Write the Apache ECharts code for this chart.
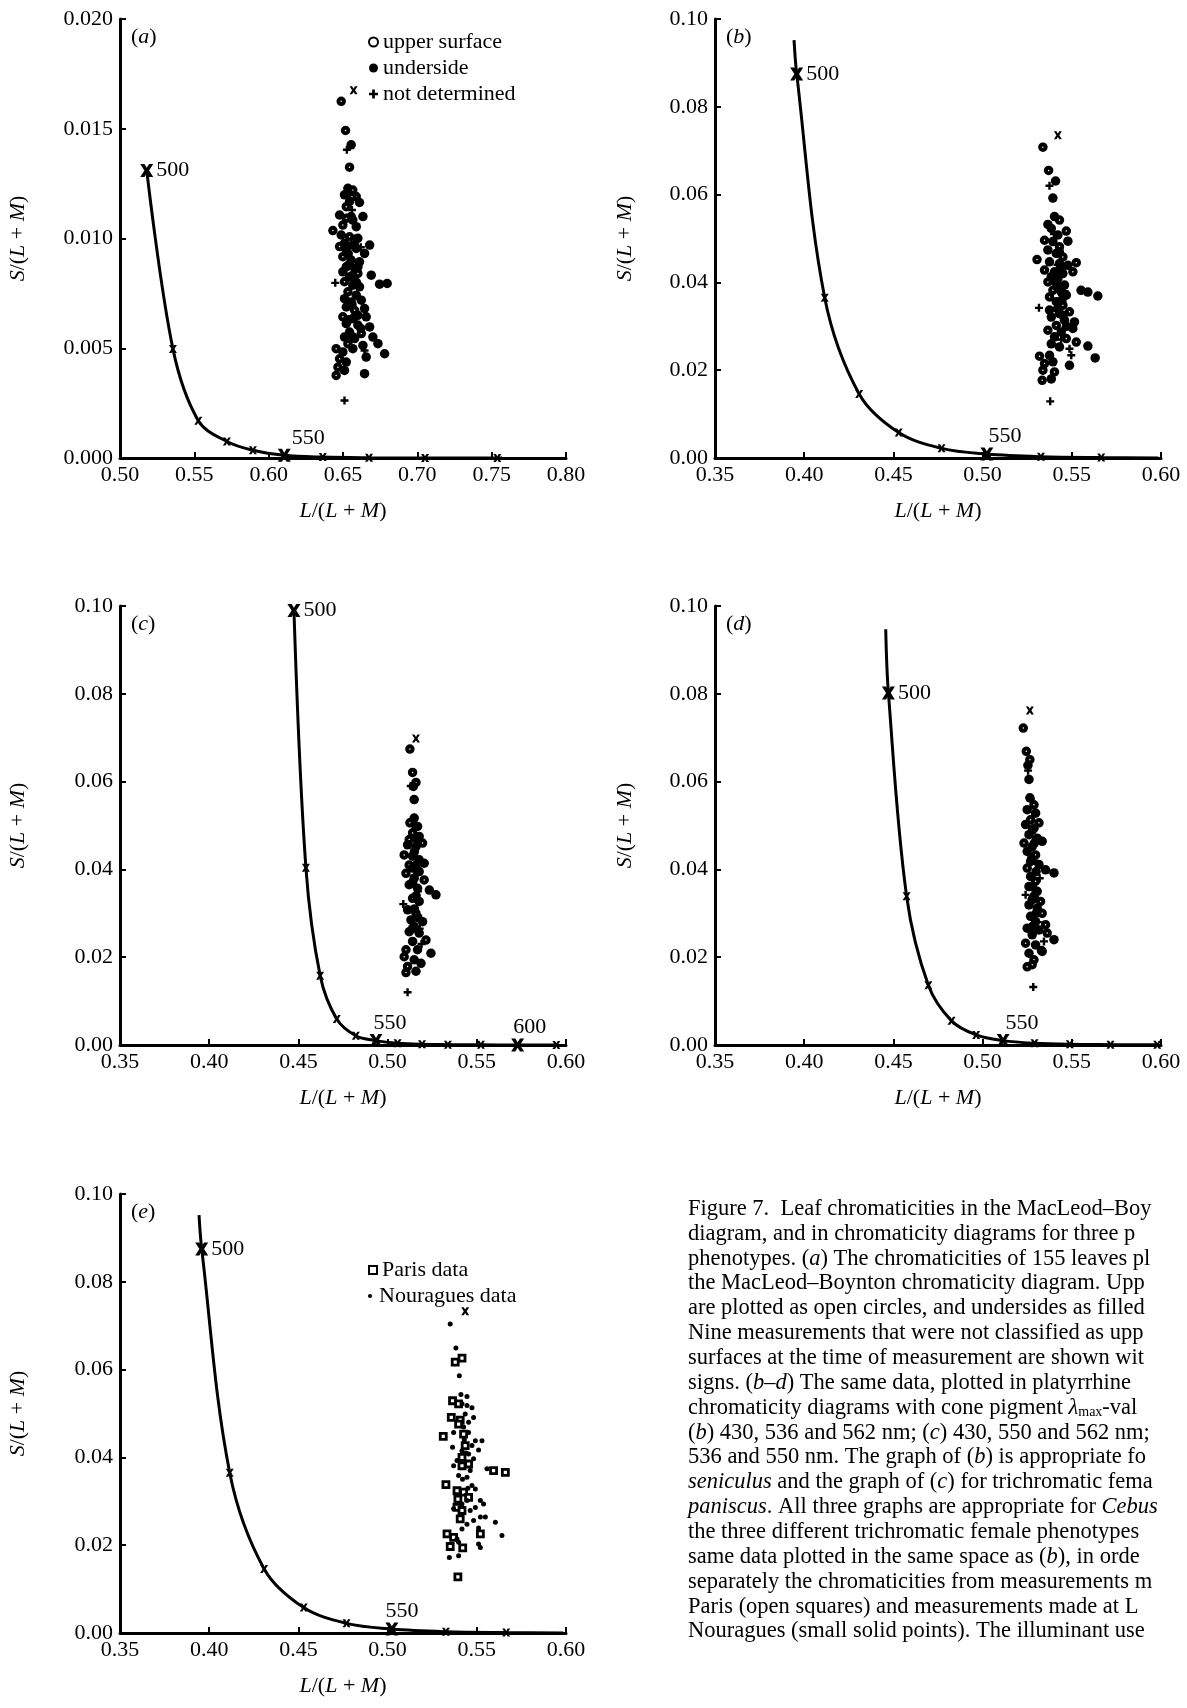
<!DOCTYPE html>
<html><head><meta charset="utf-8">
<script src="https://cdn.jsdelivr.net/npm/echarts@6/dist/echarts.min.js"></script>
<style>html,body{margin:0;padding:0;background:#fff}#c{width:1187px;height:1708px}</style>
</head><body><div id="c"></div>
<script>
// ---------- DATA ----------
// spectrum locus points: [L/(L+M), S/(L+M), wavelength nm (null = curve end only)]
const locusA = [[0.518,0.0131,500],[0.5356,0.00497,510],[0.5527,0.0017,520],[0.5719,0.00075,530],[0.5894,0.00035,540],[0.6105,0.00012,550],[0.6364,0.00004,560],[0.6675,0.00001,570],[0.7052,0,580],[0.7538,0,590],[0.757,0,null]];
const locusB = [[0.3943,0.0952,null],[0.3958,0.0875,500],[0.4115,0.0365,510],[0.4308,0.0146,520],[0.4530,0.0058,530],[0.4770,0.0022,540],[0.5024,0.0009,550],[0.5327,0.0003,560],[0.5665,0.0001,570],[0.5985,0.00002,null]];
const locusC = [[0.4475,0.0990,500],[0.4542,0.0404,510],[0.4622,0.0158,520],[0.4715,0.0059,530],[0.4822,0.0021,540],[0.4935,0.0010,550],[0.5056,0.0004,560],[0.5193,0.00015,570],[0.5338,0.00008,580],[0.5523,0.00004,590],[0.5729,0.00002,600],[0.5946,0.00001,610]];
const locusD = [[0.4457,0.0947,null],[0.4472,0.0802,500],[0.4574,0.0339,510],[0.4696,0.0136,520],[0.4826,0.0055,530],[0.4964,0.0023,540],[0.5115,0.0010,550],[0.5291,0.0004,560],[0.5489,0.00015,570],[0.5717,0.00008,580],[0.5979,0.00004,590]];
const bigWavelengths = [500, 550, 600];

// (a) MacLeod–Boynton
const upperA = [[0.6488,0.01625],[0.6517,0.01492],[0.6544,0.01325],[0.6566,0.01221],[0.6589,0.01191],[0.6522,0.01145],[0.6522,0.01092],[0.6499,0.01061],[0.6432,0.01036],[0.6544,0.01008],[0.6566,0.00970],[0.6477,0.00963],[0.6499,0.00917],[0.6522,0.00871],[0.6600,0.00841],[0.6510,0.00803],[0.6533,0.00757],[0.6555,0.00711],[0.6578,0.00673],[0.6499,0.00643],[0.6600,0.00605],[0.6623,0.00567],[0.6533,0.00521],[0.6454,0.00498],[0.6477,0.00452],[0.6466,0.00414],[0.6454,0.00376],[0.6560,0.0119]];
const underA = [[0.6555,0.01427],[0.6533,0.01229],[0.6510,0.01199],[0.6544,0.01168],[0.6611,0.01164],[0.6477,0.01107],[0.6566,0.01084],[0.6634,0.01100],[0.6589,0.01054],[0.6488,0.01016],[0.6600,0.01001],[0.6510,0.00978],[0.6679,0.00970],[0.6645,0.00932],[0.6522,0.00947],[0.6589,0.00955],[0.6555,0.00902],[0.6611,0.00894],[0.6578,0.00864],[0.6499,0.00848],[0.6544,0.00825],[0.6690,0.00833],[0.6746,0.00792],[0.6797,0.00795],[0.6566,0.00787],[0.6611,0.00780],[0.6589,0.00742],[0.6510,0.00726],[0.6623,0.00719],[0.6522,0.00688],[0.6645,0.00681],[0.6566,0.00635],[0.6656,0.00643],[0.6522,0.00612],[0.6679,0.00597],[0.6544,0.00574],[0.6510,0.00551],[0.6578,0.00544],[0.6701,0.00551],[0.6634,0.00513],[0.6499,0.00483],[0.6566,0.00498],[0.6735,0.00521],[0.6780,0.00475],[0.6522,0.00437],[0.6656,0.00460],[0.6510,0.00399],[0.6645,0.00384],[0.6555,0.0110],[0.6577,0.0097],[0.6540,0.0088],[0.6590,0.0080],[0.6560,0.0070],[0.6600,0.0065],[0.6540,0.0063],[0.6620,0.0059],[0.6535,0.0093],[0.6600,0.0087],[0.6560,0.0083],[0.6570,0.0055]];
const notDetA = [[0.6526,0.01404],[0.6448,0.00798],[0.6510,0.00262],[0.6645,0.00490],[0.6560,0.0113],[0.6620,0.0096],[0.6590,0.0062],[0.6580,0.0100],[0.6540,0.0071]];
const illumA = [[0.6571,0.01675]];

// (b) 430, 536, 562 nm  (also the space of (e))
const upperB = [[0.5338,0.0708],[0.5370,0.0655],[0.5431,0.0542],[0.5469,0.0517],[0.5347,0.0496],[0.5431,0.0481],[0.5450,0.0458],[0.5305,0.0452],[0.5525,0.0445],[0.5347,0.0428],[0.5506,0.0424],[0.5366,0.0401],[0.5394,0.0382],[0.5375,0.0367],[0.5450,0.0348],[0.5487,0.0333],[0.5413,0.0302],[0.5366,0.0291],[0.5469,0.0272],[0.5525,0.0264],[0.5319,0.0232],[0.5347,0.0215],[0.5338,0.0200],[0.5403,0.0196],[0.5334,0.0177]];
const underB = [[0.5409,0.0631],[0.5394,0.0592],[0.5403,0.0550],[0.5366,0.0532],[0.5385,0.0523],[0.5422,0.0508],[0.5394,0.0493],[0.5478,0.0494],[0.5366,0.0474],[0.5413,0.0466],[0.5375,0.0447],[0.5431,0.0443],[0.5478,0.0439],[0.5403,0.0424],[0.5450,0.0420],[0.5385,0.0413],[0.5422,0.0409],[0.5413,0.0398],[0.5459,0.0394],[0.5441,0.0378],[0.5552,0.0382],[0.5590,0.0378],[0.5646,0.0369],[0.5469,0.0371],[0.5413,0.0356],[0.5375,0.0337],[0.5431,0.0329],[0.5385,0.0321],[0.5459,0.0314],[0.5515,0.0310],[0.5441,0.0287],[0.5506,0.0295],[0.5403,0.0276],[0.5385,0.0260],[0.5431,0.0253],[0.5590,0.0255],[0.5375,0.0234],[0.5631,0.0228],[0.5394,0.0219],[0.5487,0.0211],[0.5385,0.0180],[0.5430,0.0470],[0.5440,0.0430],[0.5420,0.0390],[0.5445,0.0360],[0.5420,0.0340],[0.5450,0.0325],[0.5470,0.0300]];
const notDetB = [[0.5375,0.0620],[0.5316,0.0342],[0.5487,0.0249],[0.5497,0.0234],[0.5379,0.0129],[0.5420,0.0440],[0.5440,0.0270],[0.5400,0.0510],[0.5460,0.0380]];
const illumB = [[0.5422,0.0735]];

// (c) 430, 550, 562 nm
const upperC = [[0.5125,0.0674],[0.5140,0.0621],[0.5159,0.0598],[0.5125,0.0506],[0.5140,0.0483],[0.5121,0.0468],[0.5196,0.0460],[0.5093,0.0433],[0.5121,0.0410],[0.5103,0.0391],[0.5205,0.0376],[0.5140,0.0334],[0.5159,0.0300],[0.5149,0.0270],[0.5215,0.0239],[0.5103,0.0217],[0.5093,0.0201],[0.5112,0.0179],[0.5103,0.0165]];
const underC = [[0.5144,0.0589],[0.5149,0.0559],[0.5149,0.0517],[0.5168,0.0498],[0.5177,0.0475],[0.5112,0.0456],[0.5159,0.0452],[0.5140,0.0430],[0.5177,0.0422],[0.5205,0.0414],[0.5140,0.0403],[0.5177,0.0395],[0.5149,0.0380],[0.5121,0.0365],[0.5168,0.0357],[0.5234,0.0353],[0.5271,0.0342],[0.5177,0.0327],[0.5112,0.0308],[0.5131,0.0285],[0.5196,0.0281],[0.5121,0.0258],[0.5177,0.0255],[0.5140,0.0236],[0.5168,0.0217],[0.5243,0.0209],[0.5149,0.0194],[0.5187,0.0186],[0.5159,0.0168],[0.5150,0.0440],[0.5160,0.0410],[0.5140,0.0370],[0.5160,0.0340],[0.5150,0.0310],[0.5170,0.0290],[0.5140,0.0265],[0.5160,0.0470]];
const notDetC = [[0.5088,0.0321],[0.5112,0.0120],[0.5160,0.0425],[0.5140,0.0500],[0.5180,0.0265],[0.5190,0.0230],[0.5150,0.0385],[0.5130,0.0590],[0.5170,0.0350]];
const illumC = [[0.5159,0.0698]];

// (d) 430, 536, 550 nm
const upperD = [[0.5228,0.0722],[0.5245,0.0669],[0.5265,0.0650],[0.5288,0.0547],[0.5269,0.0513],[0.5316,0.0506],[0.5306,0.0471],[0.5232,0.0460],[0.5297,0.0433],[0.5250,0.0403],[0.5297,0.0373],[0.5325,0.0327],[0.5334,0.0300],[0.5353,0.0274],[0.5362,0.0255],[0.5241,0.0232],[0.5334,0.0213],[0.5288,0.0194],[0.5278,0.0183],[0.5250,0.0178]];
const underD = [[0.5254,0.0637],[0.5260,0.0605],[0.5265,0.0563],[0.5250,0.0536],[0.5297,0.0528],[0.5241,0.0502],[0.5288,0.0494],[0.5260,0.0479],[0.5278,0.0452],[0.5334,0.0464],[0.5250,0.0441],[0.5269,0.0418],[0.5316,0.0411],[0.5353,0.0399],[0.5400,0.0392],[0.5269,0.0384],[0.5260,0.0361],[0.5306,0.0350],[0.5278,0.0331],[0.5260,0.0319],[0.5306,0.0312],[0.5269,0.0293],[0.5297,0.0281],[0.5250,0.0266],[0.5316,0.0262],[0.5278,0.0251],[0.5400,0.0240],[0.5297,0.0228],[0.5260,0.0209],[0.5280,0.0490],[0.5290,0.0460],[0.5275,0.0425],[0.5300,0.0395],[0.5280,0.0360],[0.5290,0.0340],[0.5300,0.0300],[0.5280,0.0270],[0.5330,0.0215]];
const notDetD = [[0.5241,0.0342],[0.5344,0.0236],[0.5284,0.0132],[0.5290,0.0420],[0.5300,0.0470],[0.5270,0.0560],[0.5310,0.0280],[0.5255,0.0625],[0.5320,0.0380]];
const illumD = [[0.5265,0.0762]];

// (e) same space as (b): Paris vs Nouragues
const parisE = [[0.5417,0.0626],[0.5379,0.0617],[0.5364,0.0529],[0.5398,0.0522],[0.5357,0.0491],[0.5407,0.0485],[0.5398,0.0476],[0.5312,0.0448],[0.5426,0.0453],[0.5435,0.0427],[0.5417,0.0400],[0.5417,0.0381],[0.5454,0.0385],[0.5594,0.0370],[0.5660,0.0366],[0.5327,0.0338],[0.5389,0.0324],[0.5426,0.0321],[0.5394,0.0305],[0.5454,0.0309],[0.5389,0.0286],[0.5417,0.0279],[0.5407,0.0260],[0.5520,0.0226],[0.5333,0.0226],[0.5370,0.0218],[0.5351,0.0197],[0.5421,0.0194],[0.5394,0.0128]];
const nouraguesE = [[0.5351,0.0704],[0.5383,0.0649],[0.5402,0.0586],[0.5411,0.0543],[0.5445,0.0539],[0.5417,0.0522],[0.5445,0.0518],[0.5473,0.0513],[0.5435,0.0499],[0.5482,0.0491],[0.5454,0.0480],[0.5426,0.0469],[0.5370,0.0457],[0.5454,0.0457],[0.5492,0.0438],[0.5529,0.0438],[0.5364,0.0423],[0.5417,0.0415],[0.5510,0.0417],[0.5473,0.0427],[0.5454,0.0408],[0.5389,0.0393],[0.5482,0.0397],[0.5370,0.0381],[0.5463,0.0370],[0.5445,0.0355],[0.5557,0.0374],[0.5398,0.0359],[0.5473,0.0336],[0.5492,0.0328],[0.5445,0.0302],[0.5520,0.0302],[0.5417,0.0294],[0.5538,0.0294],[0.5370,0.0283],[0.5492,0.0286],[0.5463,0.0279],[0.5520,0.0264],[0.5482,0.0256],[0.5445,0.0248],[0.5548,0.0264],[0.5604,0.0252],[0.5510,0.0239],[0.5417,0.0237],[0.5389,0.0214],[0.5641,0.0222],[0.5510,0.0203],[0.5520,0.0195],[0.5398,0.0207],[0.5346,0.0172],[0.5398,0.0176],[0.5430,0.0440],[0.5440,0.0410],[0.5420,0.0350],[0.5450,0.0330]];
const illumE = [[0.5435,0.0733]];

const captionLines = [
  'Figure 7.  Leaf chromaticities in the MacLeod–Boy',
  'diagram, and in chromaticity diagrams for three p',
  'phenotypes. ({i|a}) The chromaticities of 155 leaves pl',
  'the MacLeod–Boynton chromaticity diagram. Upp',
  'are plotted as open circles, and undersides as filled',
  'Nine measurements that were not classified as upp',
  'surfaces at the time of measurement are shown wit',
  'signs. ({i|b–d}) The same data, plotted in platyrrhine',
  'chromaticity diagrams with cone pigment {i|λ}{s|max}-val',
  '({i|b}) 430, 536 and 562 nm; ({i|c}) 430, 550 and 562 nm;',
  '536 and 550 nm. The graph of ({i|b}) is appropriate fo',
  '{i|seniculus} and the graph of ({i|c}) for trichromatic fema',
  '{i|paniscus}. All three graphs are appropriate for {i|Cebus}',
  'the three different trichromatic female phenotypes',
  'same data plotted in the same space as ({i|b}), in orde',
  'separately the chromaticities from measurements m',
  'Paris (open squares) and measurements made at L',
  'Nouragues (small solid points). The illuminant use'
];

// ---------- LAYOUT / STYLE ----------
const FF = 'Liberation Serif';
const FS = 22;
const W = 446, H = 439;
const X_PATH = 'path://M0,0L3.2,0L5,2.9L6.8,0L10,0L6.8,5L10,10L6.8,10L5,7.1L3.2,10L0,10L3.2,5Z';
const PLUS_PATH = 'path://M3.5,0H6.5V3.5H10V6.5H6.5V10H3.5V6.5H0V3.5H3.5Z';

const panels = [
  {letter:'a', left:120, top:19, xMin:0.5, xMax:0.8, yMax:0.02, yInt:0.005, yDec:3, locus:locusA, upper:upperA, under:underA, nd:notDetA, illum:illumA, off:{550:24}},
  {letter:'b', left:715, top:19, xMin:0.35, xMax:0.6, yMax:0.1, yInt:0.02, yDec:2, locus:locusB, upper:upperB, under:underB, nd:notDetB, illum:illumB, off:{550:18}},
  {letter:'c', left:120, top:606, xMin:0.35, xMax:0.6, yMax:0.1, yInt:0.02, yDec:2, locus:locusC, upper:upperC, under:underC, nd:notDetC, illum:illumC, off:{550:14, 600:12}},
  {letter:'d', left:715, top:606, xMin:0.35, xMax:0.6, yMax:0.1, yInt:0.02, yDec:2, locus:locusD, upper:upperD, under:underD, nd:notDetD, illum:illumD, off:{550:19}},
  {letter:'e', left:120, top:1194, xMin:0.35, xMax:0.6, yMax:0.1, yInt:0.02, yDec:2, locus:locusB, paris:parisE, noura:nouraguesE, illum:illumE, off:{550:10}}
];

const grid = [], xAxis = [], yAxis = [], series = [], graphic = [];
const axisCommon = {
  type:'value',
  axisLine:{show:true, onZero:false, lineStyle:{color:'#000', width:3}},
  axisTick:{show:true, inside:true, length:6, lineStyle:{color:'#000', width:2}},
  splitLine:{show:false}
};
const italicRich = {i:{fontStyle:'italic', fontFamily:FF, fontSize:FS, color:'#000'}};
const black = {color:'#000', opacity:1};

panels.forEach((p, i) => {
  grid.push({left:p.left, top:p.top, width:W, height:H, containLabel:false});
  xAxis.push(Object.assign({}, axisCommon, {gridIndex:i, min:p.xMin, max:p.xMax, interval:0.05,
    axisLabel:{color:'#000', fontFamily:FF, fontSize:FS, margin:6, formatter:v=>v.toFixed(2)}}));
  yAxis.push(Object.assign({}, axisCommon, {gridIndex:i, min:0, max:p.yMax, interval:p.yInt,
    axisLabel:{color:'#000', fontFamily:FF, fontSize:FS, margin:7, formatter:v=>v.toFixed(p.yDec)}}));

  // locus curve
  series.push({type:'line', xAxisIndex:i, yAxisIndex:i, data:p.locus.map(d=>[d[0],d[1]]),
    showSymbol:false, smooth:0.35, lineStyle:{color:'#000', width:3}, silent:true, z:2});
  // small wavelength markers
  series.push({type:'scatter', xAxisIndex:i, yAxisIndex:i, symbol:X_PATH, symbolSize:8,
    data:p.locus.filter(d=>d[2]!=null && !bigWavelengths.includes(d[2])),
    itemStyle:black, silent:true, z:3});
  // big wavelength markers with labels
  series.push({type:'scatter', xAxisIndex:i, yAxisIndex:i, symbol:X_PATH, symbolSize:13,
    data:p.locus.filter(d=>bigWavelengths.includes(d[2])).map(d=>({
      value:d,
      label: d[2]===500 ? {position:'right', distance:3} : {position:'top', distance:0, offset:[p.off[d[2]]||15, 0]}
    })),
    itemStyle:black, silent:true, z:3,
    label:{show:true, color:'#000', fontFamily:FF, fontSize:FS, formatter:o=>String(o.value[2])}});

  if (p.upper) {
    series.push({name:'upper surface', type:'scatter', xAxisIndex:i, yAxisIndex:i, data:p.upper,
      symbol:'circle', symbolSize:5.5, itemStyle:{color:'#fff', borderColor:'#000', borderWidth:4, opacity:1}, z:4});
    series.push({name:'underside', type:'scatter', xAxisIndex:i, yAxisIndex:i, data:p.under,
      symbol:'circle', symbolSize:9.5, itemStyle:black, z:4});
    series.push({name:'not determined', type:'scatter', xAxisIndex:i, yAxisIndex:i, data:p.nd,
      symbol:PLUS_PATH, symbolSize:8, itemStyle:black, z:5});
  } else {
    series.push({name:'Paris data', type:'scatter', xAxisIndex:i, yAxisIndex:i, data:p.paris,
      symbol:'rect', symbolSize:6, itemStyle:{color:'#fff', borderColor:'#000', borderWidth:2.8, opacity:1}, z:4});
    series.push({name:'Nouragues data', type:'scatter', xAxisIndex:i, yAxisIndex:i, data:p.noura,
      symbol:'circle', symbolSize:5, itemStyle:black, z:5});
  }
  series.push({name:'illuminant', type:'scatter', xAxisIndex:i, yAxisIndex:i, data:p.illum,
    symbol:X_PATH, symbolSize:8, itemStyle:black, z:5});

  // axis titles and panel letter
  graphic.push({type:'text', x:p.left + W/2, y:p.top + H + 53, silent:true,
    style:{text:'{i|L}/({i|L} + {i|M})', rich:italicRich, fontFamily:FF, fontSize:FS, fill:'#000',
      align:'center', verticalAlign:'middle'}});
  graphic.push({type:'text', x:p.left - (p.left > 300 ? 90 : 102), y:p.top + H/2, rotation:Math.PI/2, silent:true,
    style:{text:'{i|S}/({i|L} + {i|M})', rich:italicRich, fontFamily:FF, fontSize:FS, fill:'#000',
      align:'center', verticalAlign:'middle'}});
  graphic.push({type:'text', x:p.left + 11, y:p.top + 18, silent:true,
    style:{text:'({i|'+p.letter+'})', rich:italicRich, fontFamily:FF, fontSize:FS, fill:'#000',
      align:'left', verticalAlign:'middle'}});
});

captionLines.forEach((t, k) => {
  graphic.push({type:'text', x:688, y:1209 + k*24.85, silent:true,
    style:{text:t, fontFamily:FF, fontSize:22.5, fill:'#000', align:'left', verticalAlign:'middle',
      rich:{i:{fontStyle:'italic', fontFamily:FF, fontSize:22.5, color:'#000'}, s:{fontFamily:FF, fontSize:14, color:'#000', verticalAlign:'bottom'}}}});
});

const legendCommon = {orient:'vertical', itemGap:4, itemWidth:9, itemHeight:9, padding:0, selectedMode:false,
  symbolKeepAspect:true, textStyle:{fontFamily:FF, fontSize:FS, color:'#000'}};

const chart = echarts.init(document.getElementById('c'), null, {renderer:'canvas'});
chart.setOption({
  animation:false,
  backgroundColor:'#fff',
  grid, xAxis, yAxis, series, graphic,
  legend:[
    Object.assign({}, legendCommon, {left:368, top:31, data:['upper surface','underside','not determined']}),
    Object.assign({}, legendCommon, {left:368, top:1259, itemWidth:8, itemHeight:8, data:['Paris data']}),
    Object.assign({}, legendCommon, {left:368, top:1285, itemWidth:8, itemHeight:4, data:['Nouragues data']})
  ]
});
</script></body></html>
